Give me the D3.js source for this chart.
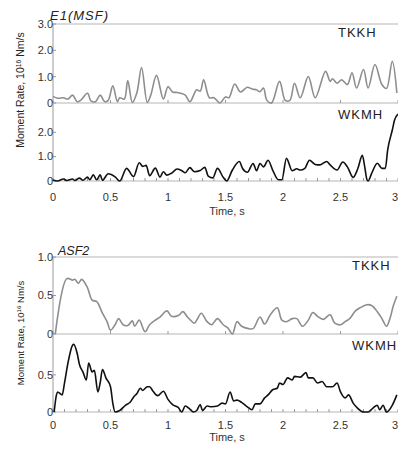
<html>
<head>
<script src="https://d3js.org/d3.v7.min.js"></script>
<style>
  body { margin: 0; background: #fff; }
  text { font-family: "Liberation Sans", Arial, sans-serif; }
</style>
</head>
<body>
<div id="chart"></div>
<script>
// moment rate functions, [time s, rate 1e16 Nm/s]
var e1Tkkh = [[0,0.25],[0.04,0.18],[0.09,0.2],[0.13,0.15],[0.17,0.3],[0.21,0.05],[0.24,0.1],[0.30,0.37],[0.33,0.08],[0.37,0.05],[0.41,0.3],[0.45,0.05],[0.48,0.1],[0.52,0.65],[0.56,0.05],[0.58,0.2],[0.62,0.15],[0.65,0.85],[0.69,0.02],[0.73,0.4],[0.77,1.35],[0.82,0.02],[0.85,0.3],[0.90,1.05],[0.96,0.15],[1.00,0.62],[1.04,0.42],[1.08,0.4],[1.10,0.38],[1.15,0.3],[1.19,0.05],[1.25,0.5],[1.28,0.45],[1.31,0.88],[1.36,0.2],[1.40,0.2],[1.45,0.0],[1.50,0.23],[1.53,0.2],[1.58,0.72],[1.63,0.42],[1.69,0.6],[1.73,0.53],[1.77,0.5],[1.80,0.43],[1.83,0.57],[1.86,0.1],[1.90,0.0],[1.97,0.82],[2.02,0.1],[2.06,0.1],[2.10,0.75],[2.15,0.2],[2.22,1.0],[2.28,0.2],[2.37,1.2],[2.41,0.82],[2.43,0.92],[2.47,0.75],[2.51,0.88],[2.56,0.7],[2.60,1.15],[2.64,0.57],[2.70,1.27],[2.74,0.57],[2.80,1.46],[2.86,0.7],[2.90,0.55],[2.95,1.58],[2.99,0.38]];

var e1Wkmh = [[0,0.04],[0.04,0],[0.09,0.08],[0.12,0.02],[0.17,0.08],[0.19,0.02],[0.23,0.12],[0.26,0.03],[0.30,0.16],[0.32,0.05],[0.35,0.25],[0.38,0.05],[0.41,0.25],[0.43,0.03],[0.48,0.3],[0.54,0.17],[0.58,0],[0.64,0.52],[0.70,0.18],[0.75,0.75],[0.78,0.6],[0.81,0.64],[0.84,0.22],[0.89,0.53],[0.93,0.16],[0.96,0.38],[0.99,0.24],[1.03,0.32],[1.08,0.49],[1.12,0.42],[1.15,0.34],[1.19,0.55],[1.23,0.38],[1.28,0.43],[1.32,0.56],[1.35,0.2],[1.39,0.13],[1.43,0.52],[1.48,0.15],[1.51,0],[1.56,0.45],[1.62,0.8],[1.65,0.5],[1.69,0.36],[1.74,0.72],[1.77,0.42],[1.80,0.72],[1.83,0.58],[1.87,0.85],[1.91,0.45],[1.96,0.05],[1.99,0.05],[2.03,0.93],[2.08,0.42],[2.12,0.5],[2.15,0.45],[2.19,0.52],[2.23,0.85],[2.28,0.68],[2.32,0.66],[2.38,0.8],[2.41,0.66],[2.47,0.45],[2.52,0.78],[2.56,0.58],[2.61,0.15],[2.65,0.5],[2.69,1.05],[2.71,0.6],[2.73,0.05],[2.74,0],[2.77,0.3],[2.82,0.73],[2.86,0.52],[2.89,0.52],[2.91,1.27],[2.95,2.08],[2.97,2.5],[3.0,2.75]];

var asfTkkh = [[0.02,0],[0.12,0.72],[0.17,0.7],[0.19,0.71],[0.22,0.66],[0.25,0.71],[0.30,0.6],[0.34,0.44],[0.38,0.42],[0.43,0.27],[0.47,0.16],[0.50,0.05],[0.54,0.12],[0.57,0.2],[0.61,0.12],[0.65,0.11],[0.69,0.17],[0.71,0.1],[0.75,0.18],[0.80,0.03],[0.84,0.12],[0.89,0.18],[0.93,0.22],[0.99,0.3],[1.03,0.23],[1.09,0.24],[1.13,0.29],[1.17,0.22],[1.23,0.14],[1.25,0.18],[1.29,0.27],[1.34,0.16],[1.38,0.12],[1.43,0.2],[1.48,0.12],[1.52,0.08],[1.56,0],[1.60,0.16],[1.64,0.1],[1.70,0.07],[1.74,0.07],[1.80,0.22],[1.84,0.13],[1.89,0.25],[1.95,0.34],[1.99,0.18],[2.03,0.16],[2.08,0.2],[2.12,0.2],[2.17,0.1],[2.22,0.18],[2.26,0.28],[2.30,0.23],[2.35,0.19],[2.41,0.25],[2.45,0.14],[2.50,0.12],[2.54,0.16],[2.58,0.2],[2.63,0.3],[2.67,0.34],[2.73,0.38],[2.77,0.37],[2.82,0.29],[2.86,0.2],[2.90,0.1],[2.93,0.2],[2.96,0.37],[2.99,0.49]];

var asfWkmh = [[0.01,0],[0.03,0.23],[0.04,0.27],[0.08,0.23],[0.10,0.39],[0.13,0.66],[0.17,0.9],[0.18,0.91],[0.21,0.79],[0.23,0.64],[0.26,0.54],[0.29,0.43],[0.31,0.66],[0.34,0.54],[0.36,0.56],[0.39,0.27],[0.41,0.39],[0.43,0.57],[0.46,0.46],[0.50,0.34],[0.52,0.12],[0.54,0],[0.58,0.02],[0.63,0.09],[0.67,0.13],[0.70,0.2],[0.73,0.25],[0.76,0.32],[0.78,0.29],[0.82,0.34],[0.84,0.34],[0.87,0.28],[0.91,0.22],[0.96,0.28],[1.00,0.17],[1.04,0.1],[1.09,0.06],[1.12,0],[1.15,0.08],[1.19,0.04],[1.22,0],[1.25,0.02],[1.28,0.1],[1.30,0.02],[1.34,0.08],[1.38,0.07],[1.43,0.08],[1.47,0.12],[1.50,0.11],[1.54,0.27],[1.57,0.15],[1.60,0.16],[1.64,0.13],[1.69,0.07],[1.73,0.03],[1.76,0.11],[1.80,0.11],[1.84,0.19],[1.87,0.23],[1.91,0.3],[1.95,0.32],[1.97,0.39],[2.00,0.37],[2.04,0.46],[2.08,0.43],[2.10,0.48],[2.15,0.47],[2.20,0.53],[2.22,0.46],[2.26,0.46],[2.30,0.39],[2.34,0.41],[2.38,0.34],[2.43,0.34],[2.47,0.39],[2.50,0.27],[2.54,0.19],[2.57,0.23],[2.61,0.12],[2.65,0.05],[2.70,0],[2.74,0],[2.78,0.05],[2.82,0.09],[2.84,0.03],[2.87,0.09],[2.90,0],[2.95,0.09],[2.99,0.23]];

var timeTicks = [0, 0.5, 1, 1.5, 2, 2.5, 3];
var e1TopTicks = [0, 1, 2, 3];
var e1BotTicks = [0, 1, 2];
var asfTopTicks = [0, 0.5, 1];
var asfBotTicks = [0, 0.5];

var W = 398, H = 449;
var svg = d3.select("#chart").append("svg")
  .attr("width", W).attr("height", H);

var x = d3.scaleLinear().domain([0, 3]).range([53, 398]);

var panels = [
  {data: e1Tkkh, name: "TKKH", color: "#8e8e8e", domain: [0, 3], range: [103, 24], ticks: e1TopTicks, fmt: d => d ? d.toFixed(1) : "0", frame: true, minor: false, smooth: true, lx: 338, ly: 37},
  {data: e1Wkmh, name: "WKMH", color: "#111", domain: [0, 3.2], range: [181, 103], ticks: e1BotTicks, fmt: d => d ? d.toFixed(1) : "0", frame: false, minor: true, smooth: false, lx: 338, ly: 119},
  {data: asfTkkh, name: "TKKH", color: "#8e8e8e", domain: [0, 1], range: [334, 257], ticks: asfTopTicks, fmt: d => d == 0.5 ? "0.5" : (d ? d.toFixed(1) : "0"), frame: true, minor: false, smooth: true, lx: 352, ly: 270},
  {data: asfWkmh, name: "WKMH", color: "#111", domain: [0, 1.05], range: [412, 334], ticks: asfBotTicks, fmt: d => d ? String(d) : "0", frame: false, minor: true, smooth: false, lx: 352, ly: 350}
];

panels.forEach(function(p) {
  var y = d3.scaleLinear().domain(p.domain).range(p.range);
  var g = svg.append("g");

  // frame
  if (p.frame) {
    g.append("line").attr("x1", x(0)).attr("x2", W).attr("y1", y(p.domain[1])).attr("y2", y(p.domain[1]))
      .attr("stroke", "#b5b5b5").attr("stroke-width", 1);
  }
  g.append("line").attr("x1", x(0)).attr("x2", W).attr("y1", y(0)).attr("y2", y(0))
    .attr("stroke", "#b5b5b5").attr("stroke-width", 1);
  g.append("line").attr("x1", x(0)).attr("x2", x(0)).attr("y1", y(0)).attr("y2", y(p.domain[1]))
    .attr("stroke", "#9a9a9a").attr("stroke-width", 1);

  // time ticks on baseline
  var tt = p.minor ? d3.range(0, 3.01, 0.1) : timeTicks;
  g.selectAll(".xt").data(tt).enter().append("line")
    .attr("x1", d => x(d)).attr("x2", d => x(d))
    .attr("y1", y(0)).attr("y2", y(0) - 3)
    .attr("stroke", "#999").attr("stroke-width", 1);

  // y ticks
  g.selectAll(".yt").data(p.ticks).enter().append("line")
    .attr("x1", x(0)).attr("x2", x(0) + 3)
    .attr("y1", d => y(d)).attr("y2", d => y(d))
    .attr("stroke", "#999");
  g.selectAll(".yl").data(p.ticks).enter().append("text")
    .attr("x", 53).attr("y", d => y(d))
    .attr("dy", "0.35em")
    .attr("text-anchor", "end")
    .style("font-size", "11px").style("fill", "#333")
    .text(p.fmt);

  var line = d3.line()
    .x(d => x(d[0])).y(d => y(d[1]))
    .curve(p.smooth ? d3.curveCatmullRom.alpha(0.5) : d3.curveMonotoneX);
  g.append("path").datum(p.data)
    .attr("d", line)
    .attr("fill", "none")
    .attr("stroke", p.color)
    .attr("stroke-width", 1.6)
    .attr("stroke-linejoin", "round");

  g.append("text").attr("x", p.lx).attr("y", p.ly)
    .style("font-size", "13px").style("letter-spacing", "1px").style("fill", "#222")
    .text(p.name);
});

// time axis labels
[{y: 201, ly: 215}, {y: 429, ly: 441}].forEach(function(a) {
  svg.selectAll(null).data(timeTicks).enter().append("text")
    .attr("x", d => x(d)).attr("y", a.y)
    .attr("text-anchor", d => d == 3 ? "end" : "middle")
    .style("font-size", "11px").style("fill", "#333")
    .text(d => d);
  svg.append("text").attr("x", 227).attr("y", a.ly)
    .attr("text-anchor", "middle")
    .style("font-size", "11px").style("fill", "#333")
    .text("Time, s");
});

// titles
svg.append("text").attr("x", 50).attr("y", 20)
  .style("font-size", "13px").style("font-style", "italic").style("letter-spacing", "1px").style("fill", "#222")
  .text("E1(MSF)");
svg.append("text").attr("x", 58).attr("y", 255)
  .style("font-size", "12.5px").style("font-style", "italic").style("fill", "#222")
  .text("ASF2");

// y axis labels
[{cy: 90, fs: 10.5}, {cy: 333, fs: 9.5}].forEach(function(a) {
  var t = svg.append("text")
    .attr("transform", "translate(24," + a.cy + ") rotate(-90)")
    .attr("text-anchor", "middle")
    .style("font-size", a.fs + "px").style("fill", "#222");
  t.append("tspan").text("Moment Rate, 10");
  t.append("tspan").attr("baseline-shift", "super").style("font-size", (a.fs * 0.65) + "px").text("16");
  t.append("tspan").text(" Nm/s");
});
</script>
</body>
</html>
